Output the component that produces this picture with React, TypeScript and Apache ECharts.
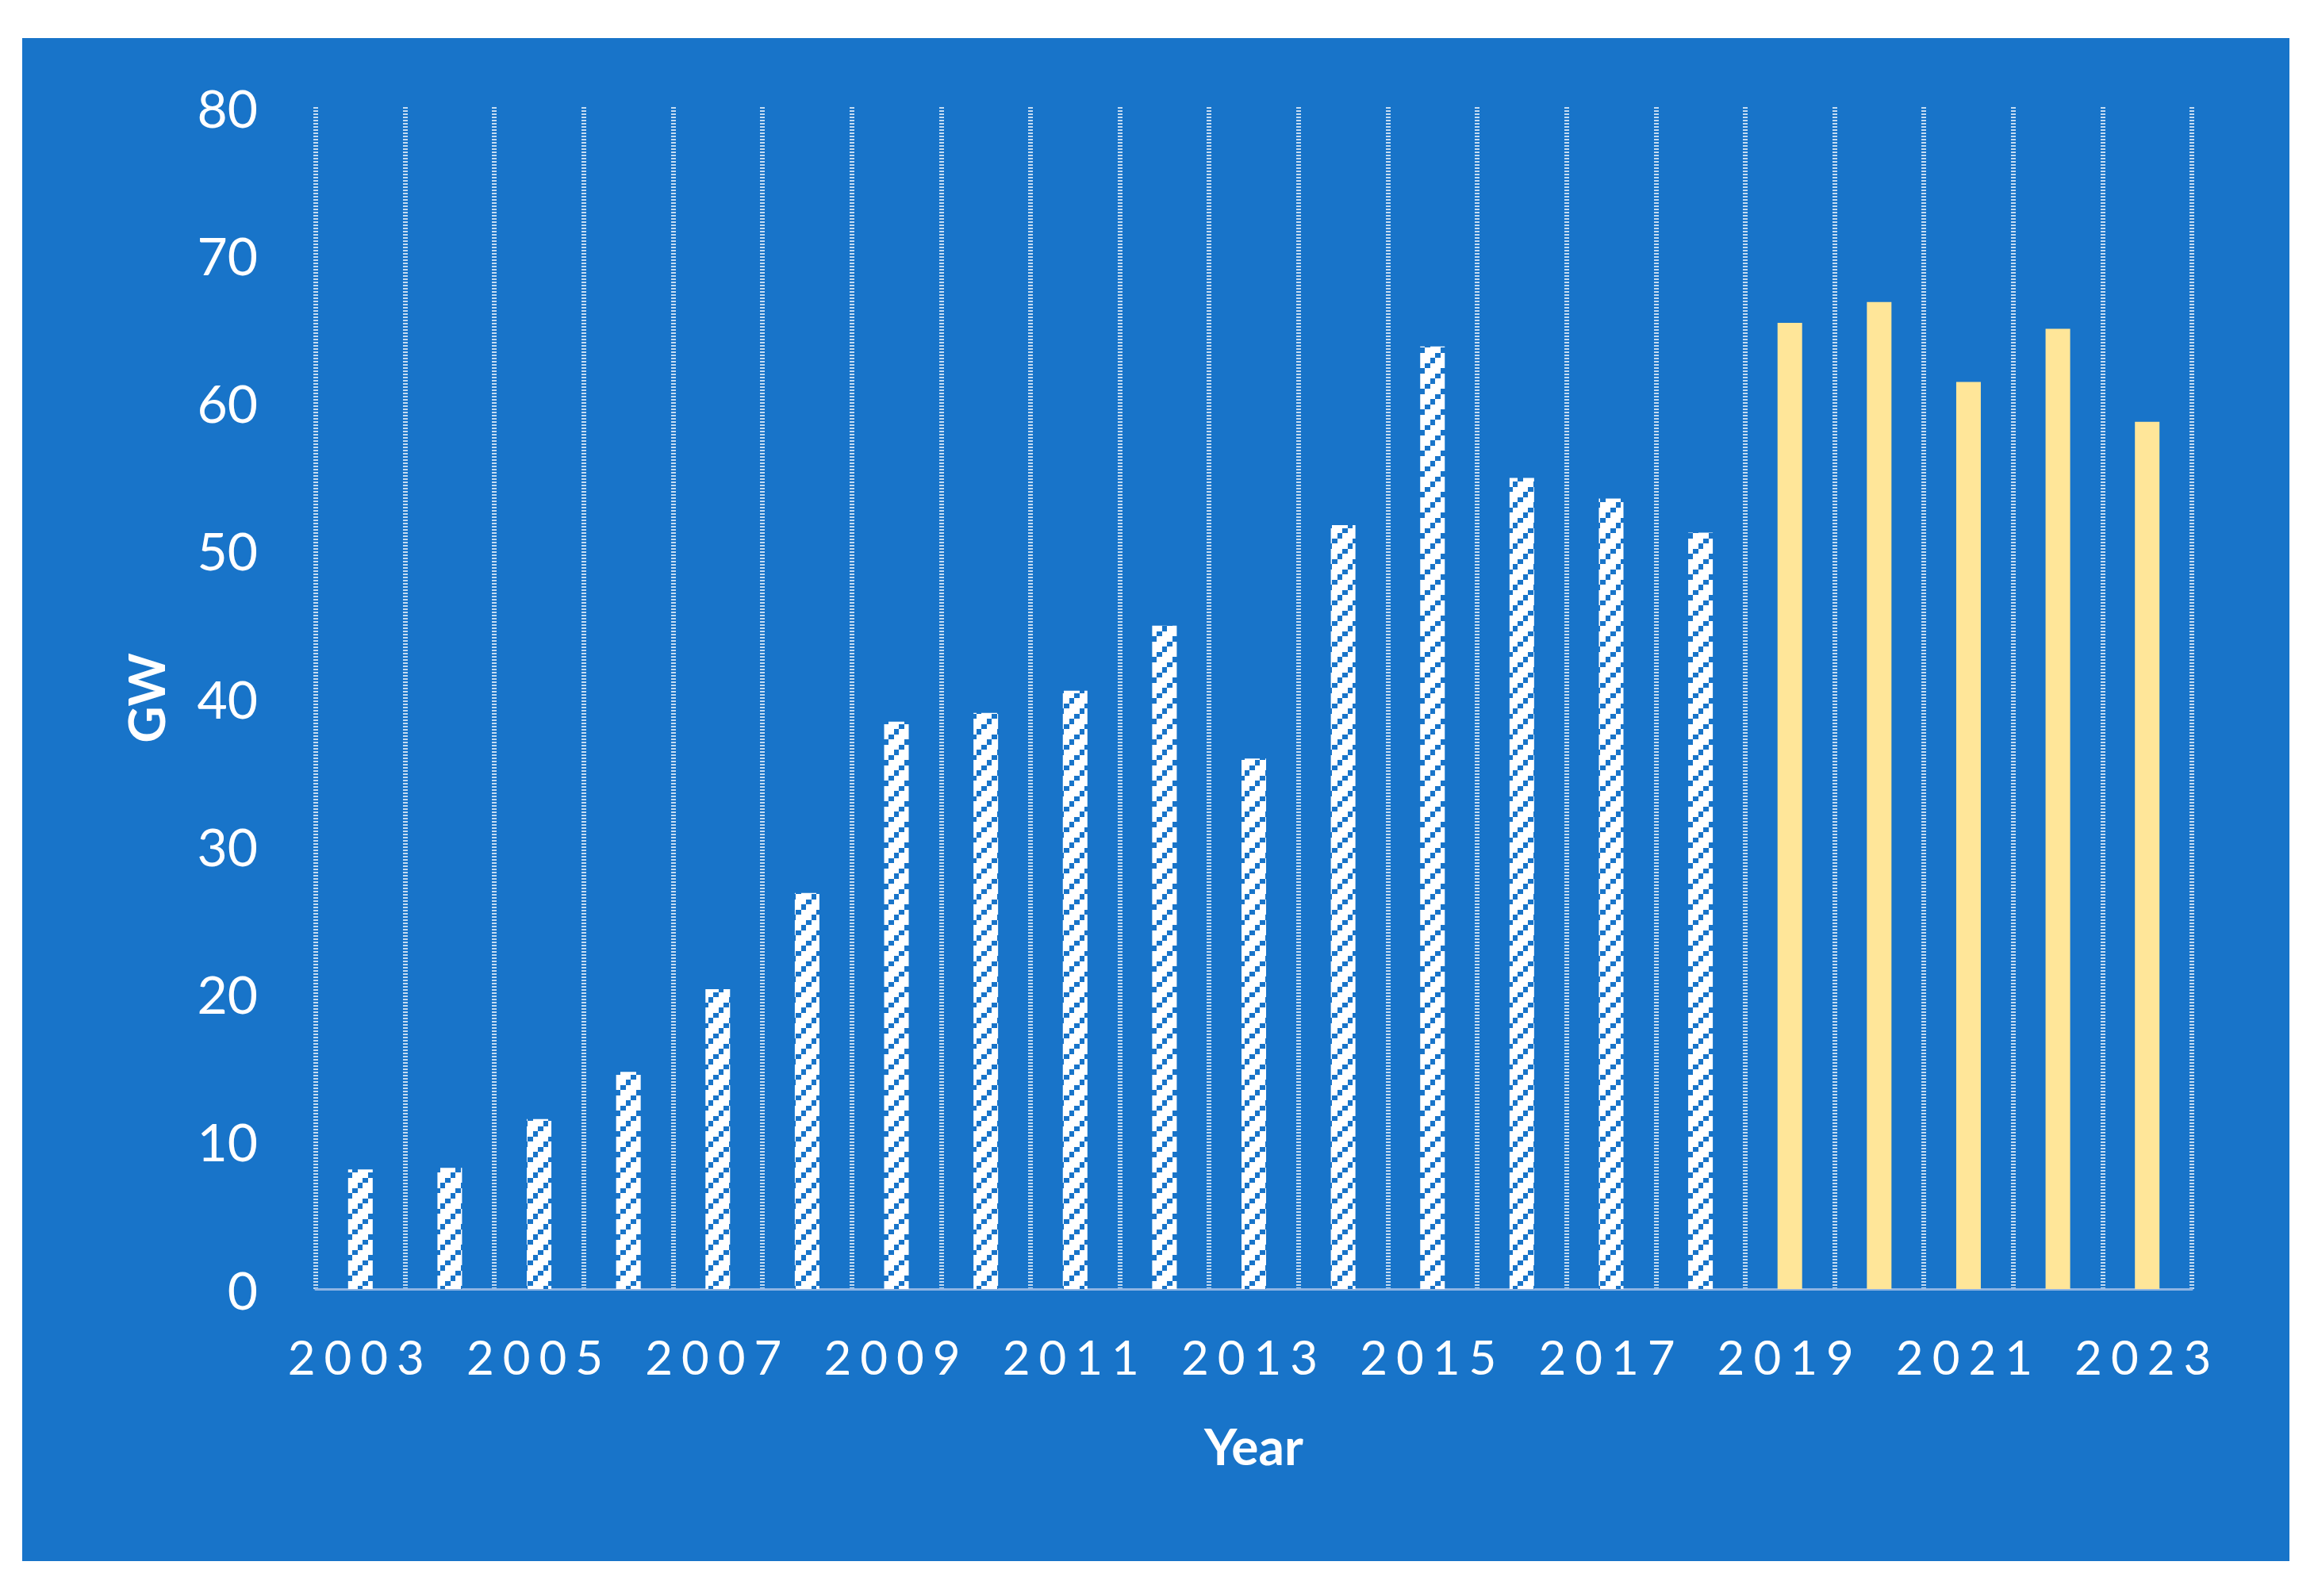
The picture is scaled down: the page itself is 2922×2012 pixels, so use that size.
import React, { useEffect, useRef } from "react";
import * as echarts from "echarts";

// ---- data ----
const years = [
  "2003", "2004", "2005", "2006", "2007", "2008", "2009", "2010", "2011", "2012", "2013",
  "2014", "2015", "2016", "2017", "2018", "2019", "2020", "2021", "2022", "2023",
];
const historicalGW = [8.1, 8.2, 11.5, 14.7, 20.3, 26.8, 38.4, 39.0, 40.5, 44.9, 35.9, 51.7, 63.8, 54.9, 53.5, 51.2];
const forecastGW = [65.4, 66.8, 61.4, 65.0, 58.7];
const yMin = 0;
const yMax = 80;
const yStep = 10;
const xAxisTitle = "Year";
const yAxisTitle = "GW";

const BG = "#1874C9";
const YELLOW = "#FFE699";

function makeHatch(bg: string, fg: string) {
  const c = document.createElement("canvas");
  c.width = 26;
  c.height = 26;
  const ctx = c.getContext("2d")!;
  ctx.fillStyle = bg;
  ctx.fillRect(0, 0, 26, 26);
  ctx.fillStyle = fg;
  const e = [0, 7, 13, 20, 26];
  for (let r = 0; r < 4; r++) {
    const col = 3 - r;
    ctx.fillRect(e[col], e[r], e[col + 1] - e[col], e[r + 1] - e[r]);
  }
  return c;
}

export default function App() {
  const ref = useRef<HTMLDivElement>(null);

  useEffect(() => {
    if (!ref.current) return;
    const chart = echarts.init(ref.current, undefined, { renderer: "svg" });
    const hatch = makeHatch("#FFFFFF", BG);

    const histData = [...historicalGW, ...forecastGW.map(() => "-")];
    const foreData = [...historicalGW.map(() => "-"), ...forecastGW];

    chart.setOption({
      animation: false,
      backgroundColor: BG,
      textStyle: { fontFamily: "Lato" },
      grid: { left: 370, right: 123, top: 87, bottom: 343, containLabel: false },
      xAxis: {
        type: "category",
        data: years,
        boundaryGap: true,
        name: xAxisTitle,
        nameLocation: "middle",
        nameGap: 165,
        nameTextStyle: { color: "#FFFFFF", fontSize: 64, fontWeight: "bold", fontFamily: "Lato" },
        axisLine: { show: true, lineStyle: { color: "#8EB4E3", width: 3 } },
        axisTick: { show: false },
        axisLabel: {
          interval: 1,
          color: "#FFFFFF",
          fontSize: 60,
          fontFamily: "Lato",
          margin: 55,
        },
        splitLine: {
          show: true,
          interval: 0,
          lineStyle: { color: "rgba(255,255,255,0.75)", width: 6, type: [2, 2] },
        },
      },
      yAxis: {
        type: "value",
        min: yMin,
        max: yMax,
        interval: yStep,
        name: yAxisTitle,
        nameLocation: "middle",
        nameGap: 183,
        nameRotate: 90,
        nameTextStyle: { color: "#FFFFFF", fontSize: 64, fontWeight: "bold", fontFamily: "Lato" },
        axisLine: { show: false },
        axisTick: { show: false },
        splitLine: { show: false },
        axisLabel: { color: "#FFFFFF", fontSize: 66, fontFamily: "Lato", margin: 73 },
      },
      series: [
        {
          type: "bar",
          data: histData,
          barWidth: 31,
          barGap: "-100%",
          itemStyle: { color: { image: hatch, repeat: "repeat" } },
        },
        {
          type: "bar",
          data: foreData,
          barWidth: 31,
          barGap: "-100%",
          itemStyle: { color: YELLOW },
        },
      ],
    });

    const spaceLabels = () => {
      const svg = ref.current?.querySelector("svg");
      if (!svg) return;
      svg.querySelectorAll("text").forEach((t) => {
        const s = (t.textContent || "").trim();
        if (years.includes(s)) t.setAttribute("letter-spacing", "11");
      });
    };
    spaceLabels();
    chart.on("finished", spaceLabels);
    const tm = window.setTimeout(spaceLabels, 50);

    return () => {
      window.clearTimeout(tm);
      chart.dispose();
    };
  }, []);

  return (
    <div style={{ position: "fixed", left: 0, top: 0, width: 2922, height: 2012, background: "#FFFFFF" }}>
      <div
        ref={ref}
        style={{ position: "absolute", left: 28, top: 48, width: 2858, height: 1920 }}
      />
    </div>
  );
}
